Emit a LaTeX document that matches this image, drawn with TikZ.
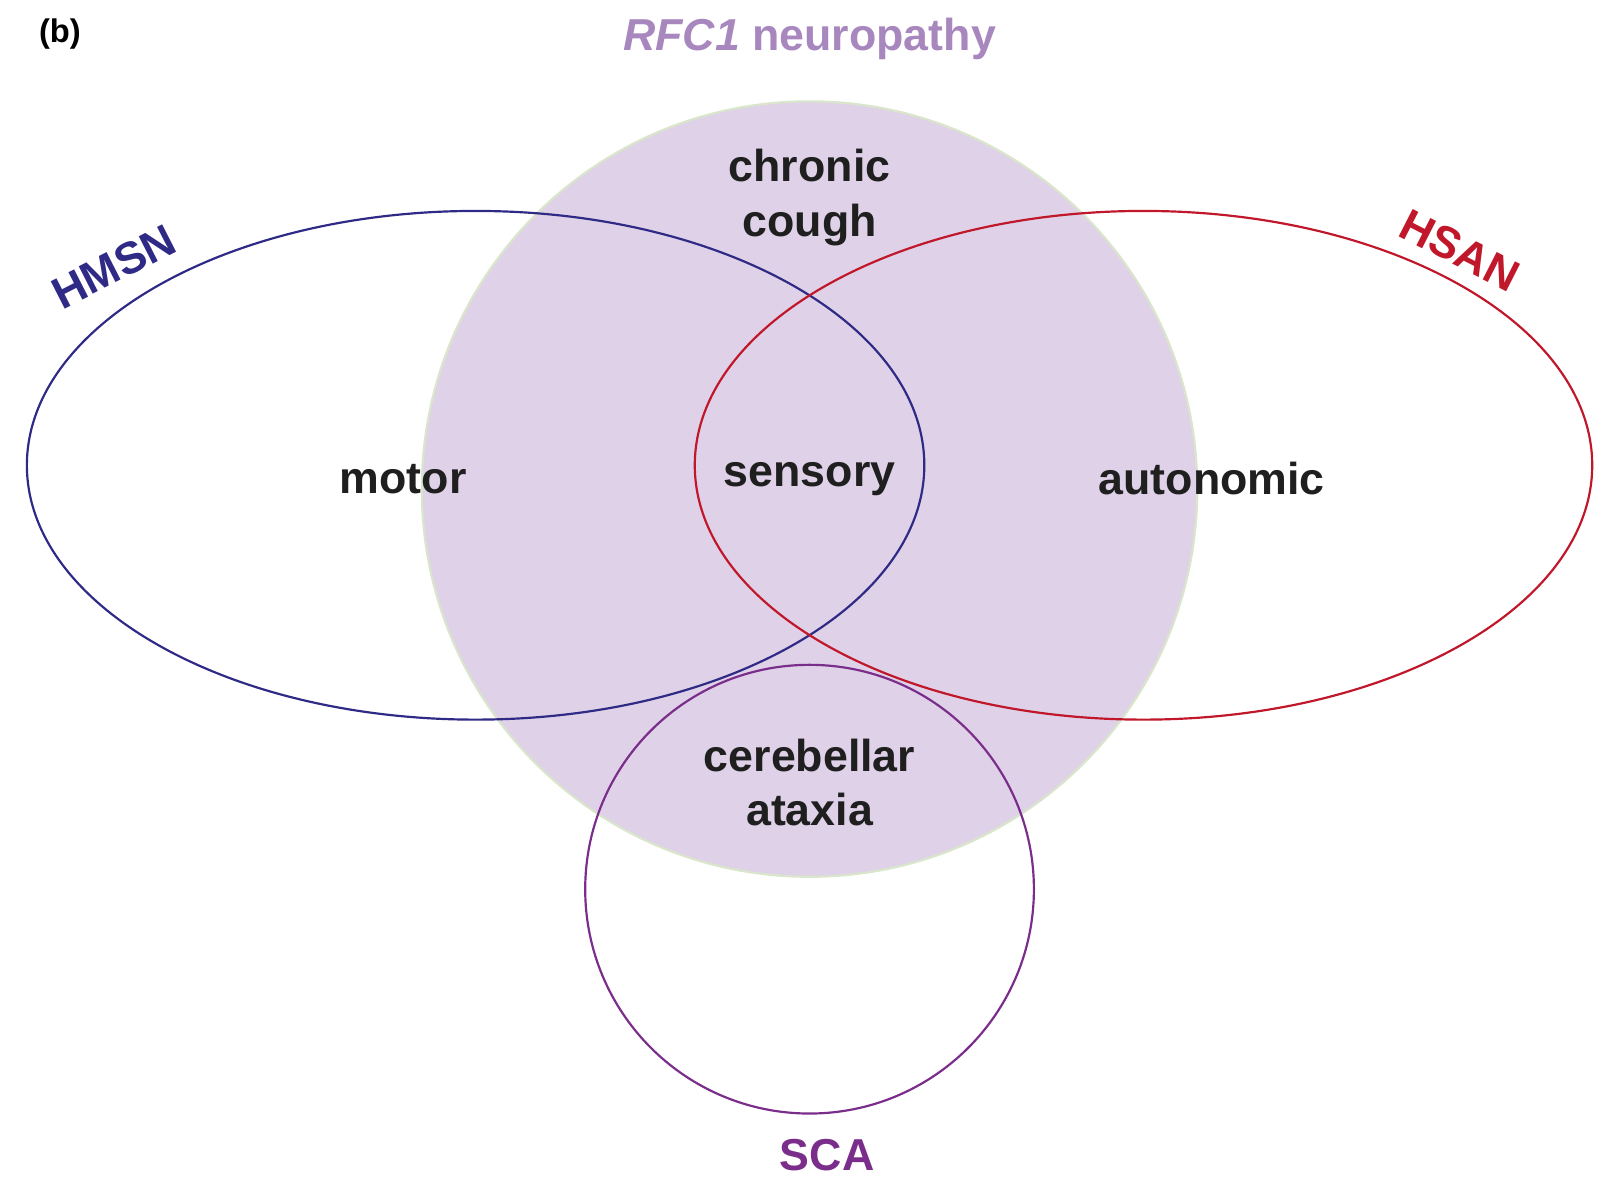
\documentclass[tikz,border=0pt]{standalone}
\usepackage{fontspec}
\setmainfont{Liberation Sans}
\begin{document}
\begin{tikzpicture}[x=0.01cm,y=-0.01cm,
  lab/.style={font=\fontsize{12.3}{15}\selectfont\bfseries, text=black!88, align=center},
  ring/.style={line width=0.6pt}]
\definecolor{rfcfill}{HTML}{DFD1E7}
\definecolor{rfcedge}{HTML}{D9E6CC}
\definecolor{hmsn}{HTML}{2E2A86}
\definecolor{hsan}{HTML}{C0172A}
\definecolor{sca}{HTML}{7B2D8B}
\definecolor{title}{HTML}{A887BE}
\useasboundingbox (0,0) rectangle (1563,1159);
\fill[rfcfill, draw=rfcedge, line width=0.6pt] (783,473) circle [radius=375];
\draw[ring, hmsn] (460,450) ellipse [x radius=434, y radius=246];
\draw[ring, hsan] (1106,450) ellipse [x radius=434, y radius=246];
\draw[ring, sca] (783,860) circle [radius=217];
\node[lab] (cough) at (783,191) {chronic\\cough};
\node[lab] (motor) at (390,463) {motor};
\node[lab] (sens) at (783,463) {sensory};
\node[lab] (auto) at (1172,463) {autonomic};
\node[lab] (cer) at (783,757) {cerebellar\\ataxia};
\node[lab, text=hmsn, rotate=27] (hm) at (110,258) {HMSN};
\node[lab, text=hsan, rotate=-27] (hs) at (1412,242) {HSAN};
\node[lab, text=sca] (sc) at (800,1117) {SCA};
\node[lab, text=title] (t) at (783,38) {\textit{RFC1} neuropathy};
\node[font=\fontsize{9}{11}\selectfont\bfseries] (b) at (58,33) {(b)};
\end{tikzpicture}
\end{document}
